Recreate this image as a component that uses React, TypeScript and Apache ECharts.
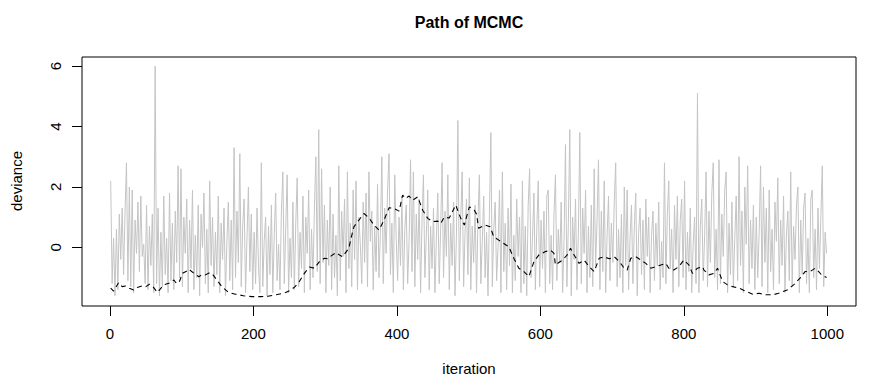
import React, { useEffect, useRef } from "react";
import * as echarts from "echarts";

// x ticks and y ticks
const xTicks = [0, 200, 400, 600, 800, 1000];
const yTicks = [0, 2, 4, 6];

// sampled chain (every 2nd iteration starting at 1)
const sampleStep = 2;
const deviance = [
  2.2, -1.2, 0.3, -1.6, 0.6, -1.4, 1.1, -0.4, 1.3, -0.9, 1.2, 2.8, -1.1, 2.0, -1.3, 1.9, -1.5, 0.9, -0.2, 1.5, -0.8, 1.7, -0.3, 0.1, -1.2,
  1.4, -1.4, 0.7, -0.6, 1.1, -1.5, 6.0, -1.2, 1.3, -1.6, 0.5, -1.3, 1.7, -0.9, 0.3, -1.5, 1.8, -1.1, 0.8, -1.4, 1.2, -0.5, 2.7, -1.0, 2.6,
  -1.3, 1.0, -0.2, 1.6, -1.5, 0.9, -0.7, 1.9, -1.4, 0.4, -1.0, 1.4, -1.6, 1.1, 0.0, 1.8, -1.2, 0.6, -1.5, 2.2, -0.6, 1.0, -1.3, 0.5, -0.9,
  1.7, -1.5, 0.8, -0.4, 1.3, -1.6, 0.2, 1.5, -1.1, 0.9, -1.4, 3.3, -1.0, 1.2, -0.5, 3.1, -1.3, 0.7, 1.6, -1.5, 0.3, 2.0, -0.8, 1.1, -1.4,
  0.5, -1.2, 1.3, -0.6, -1.5, 2.8, -1.3, 0.2, 1.0, -1.6, 0.7, -0.9, 1.4, -1.5, 0.4, 1.8, -1.1, 0.1, -1.4, 1.2, 2.5, -1.2, 0.6, 2.4, -1.5,
  0.3, -1.0, 1.5, -1.4, 0.8, 2.3, -1.3, 0.5, -0.7, 1.7, -1.5, 1.0, -0.2, 1.9, -1.4, 0.6, -1.0, 1.3, 3.0, -0.8, 3.9, -1.2, 2.6, -0.5, 1.4,
  -1.5, 0.9, -0.6, 2.0, -1.4, 1.1, -1.0, 0.4, -1.6, 2.7, -1.1, 1.2, -0.3, 1.6, -1.5, 2.5, -0.7, 0.8, -1.3, 1.9, -0.4, 2.2, -1.4, 1.0, 0.1,
  -1.2, 1.5, -0.5, 1.8, -1.3, 2.5, 0.2, 1.2, -1.4, 0.7, -0.8, 2.1, -1.0, 0.5, 3.0, -1.2, 1.3, -0.2, 1.9, 3.1, -0.9, 0.8, -1.5, 2.4, 0.3,
  -1.1, 1.0, -0.6, 1.7, -1.4, 0.6, 1.4, -1.2, 0.2, 2.9, -0.8, 2.5, -1.3, 1.1, -0.4, 1.6, -1.5, 0.9, 2.4, -1.0, 0.4, 1.9, -1.4, 0.7, -0.7,
  1.3, -1.5, 0.3, 1.8, -1.2, 0.6, 2.8, -1.0, 1.2, -0.3, 2.4, -1.4, 0.8, -0.6, 1.5, -1.6, 0.4, 4.2, -1.1, 1.0, 2.5, -1.3, 0.5, 1.6, -0.9,
  2.3, -1.4, 0.7, -0.5, 1.4, -1.5, 0.9, 2.4, -1.2, 0.2, 1.7, -1.0, 0.5, -1.6, 1.2, 3.8, -1.3, 0.6, 1.5, -1.1, 0.0, 1.9, -1.5, 2.5, -0.8,
  0.8, -1.4, 1.3, -0.6, 2.1, -1.5, 0.4, -1.1, 1.6, -0.3, 1.0, -1.5, 2.2, -1.2, 0.7, -1.6, 1.4, 2.6, -1.0, 0.3, 1.8, -1.4, 0.6, 2.2, -1.3,
  0.9, -0.7, 1.2, -1.5, 1.7, 1.9, -1.2, 0.4, -1.4, 1.1, 2.4, -1.1, 0.6, -0.5, 1.5, -1.5, 0.2, 3.4, -1.3, 0.8, 3.9, -1.6, 1.0, -0.4, 1.6,
  -1.4, 0.5, 3.8, -1.2, 1.3, -0.2, 1.9, -1.5, 0.7, -1.0, 1.4, -1.3, 2.6, -0.6, 0.9, 2.9, -1.4, 1.2, -0.8, 2.2, -1.5, 0.4, 1.7, -1.1, 0.8,
  -0.5, 1.5, 2.8, -1.3, 0.6, -1.0, 1.1, -1.5, 2.0, -0.6, 1.9, -1.4, 0.3, 1.4, -1.2, 0.7, 1.8, -1.6, 0.5, 1.3, -0.9, 0.9, -1.4, 1.6, -0.3,
  1.0, -1.5, 0.4, 1.2, -1.1, 0.8, -0.6, 1.5, -1.4, 0.2, -1.0, 2.8, -1.2, 1.1, 2.2, -0.7, 0.6, -1.5, 1.4, -0.4, 1.7, -1.3, 0.9, 1.6, -1.0,
  2.2, -1.4, 0.5, -0.8, 1.3, -1.5, 0.1, 1.0, -1.2, 5.1, -1.5, 0.7, 1.6, -1.1, 0.4, 2.5, -1.3, 1.2, -0.5, 1.8, 2.8, -1.0, 0.6, -1.4, 2.9,
  -1.2, 1.1, -0.3, 1.9, 2.5, -1.5, 0.8, -0.9, 1.5, -1.3, 0.3, 1.7, -1.1, 3.0, -0.6, 1.2, -1.5, 2.0, 0.1, 2.7, -1.2, 0.9, -0.7, 1.4, -1.4,
  1.0, -1.0, 0.5, 2.7, -1.3, 2.0, -0.5, 1.3, -1.5, 1.9, -0.8, 0.6, -1.4, 1.5, 0.2, 2.3, -1.2, 0.9, -0.6, 1.7, -1.5, 0.4, 1.2, -1.1, 2.5,
  -1.3, 0.7, -0.4, 1.4, 2.0, -1.5, 0.9, -0.9, 1.3, 1.8, -1.2, 0.3, -1.5, 1.6, 1.9, -1.0, 0.6, -1.4, 1.3, -0.7, 1.0, 2.7, -1.3, 0.5, -0.2,
];

// second (dashed) trace
const traceIter = [
  1, 5, 12, 17, 22, 27, 33, 38, 45, 50, 55, 60, 66, 70, 75, 82, 89, 93, 97, 101, 106, 110, 117, 124, 128, 133, 138, 142, 149, 156,
  165, 175, 186, 198, 210, 220, 231, 240, 245, 252, 258, 264, 271, 278, 285, 292, 299, 304, 308, 315, 320, 324, 333, 336, 340, 347,
  354, 361, 368, 375, 382, 389, 396, 403, 408, 412, 417, 422, 429, 436, 443, 450, 457, 461, 466, 473, 482, 489, 494, 501, 508, 511,
  514, 523, 530, 535, 542, 549, 556, 563, 570, 577, 584, 591, 598, 607, 614, 619, 621, 631, 638, 642, 647, 654, 661, 668, 675, 682,
  689, 696, 703, 710, 717, 721, 726, 733, 740, 747, 754, 761, 768, 775, 779, 786, 793, 800, 807, 812, 819, 826, 828, 835, 842, 847,
  854, 861, 868, 877, 887, 896, 905, 914, 924, 932, 944, 953, 962, 969, 976, 983, 988, 992, 999,
];
const traceVal = [
  -1.35, -1.45, -1.17, -1.3, -1.28, -1.35, -1.41, -1.33, -1.27, -1.3, -1.22, -1.3, -1.49, -1.38, -1.24, -1.19, -1.08, -1.2, -1.12,
  -0.86, -0.8, -0.72, -0.86, -0.97, -0.9, -0.91, -0.85, -0.86, -1.08, -1.3, -1.49, -1.55, -1.6, -1.63, -1.63, -1.62, -1.57, -1.53,
  -1.49, -1.41, -1.3, -1.13, -0.86, -0.65, -0.69, -0.47, -0.36, -0.38, -0.29, -0.17, -0.25, -0.31, -0.03, 0.3, 0.68, 0.9, 1.12, 0.98,
  0.74, 0.57, 0.9, 1.31, 1.29, 1.2, 1.73, 1.62, 1.7, 1.56, 1.67, 1.23, 0.96, 0.85, 0.87, 0.79, 1.0, 0.97, 1.4, 0.96, 0.74, 1.34, 1.23,
  1.1, 0.63, 0.74, 0.68, 0.35, 0.24, 0.13, 0.02, -0.36, -0.69, -0.8, -0.97, -0.47, -0.25, -0.14, -0.09, -0.2, -0.58, -0.42, -0.23,
  -0.03, -0.25, -0.53, -0.42, -0.64, -0.8, -0.36, -0.31, -0.38, -0.31, -0.47, -0.69, -0.75, -0.36, -0.31, -0.42, -0.53, -0.69, -0.64,
  -0.58, -0.53, -0.69, -0.75, -0.64, -0.42, -0.58, -0.86, -0.69, -0.64, -0.75, -0.91, -0.86, -0.69, -1.13, -1.24, -1.3, -1.35, -1.46,
  -1.55, -1.52, -1.57, -1.57, -1.52, -1.41, -1.24, -1.02, -0.8, -0.8, -0.69, -0.8, -0.91, -1.0,
];

const FONT = "'Liberation Sans', Arial, Helvetica, sans-serif";

export default function App() {
  const ref = useRef<HTMLDivElement>(null);
  useEffect(() => {
    document.body.style.margin = "0";
    const chart = echarts.init(ref.current as HTMLDivElement, null, { renderer: "svg" });
    const grayData = deviance.map((v, i) => [i * sampleStep + 1, v]);
    const dashData = traceIter.map((x, i) => [x, traceVal[i]]);
    chart.setOption({
      animation: false,
      backgroundColor: "#ffffff",
      grid: {
        left: 82,
        right: 14,
        top: 57,
        bottom: 75,
        show: true,
        borderColor: "#000",
        borderWidth: 1,
        backgroundColor: "transparent",
      },
      xAxis: {
        type: "value",
        min: -39,
        max: 1040,
        axisLine: { show: false, onZero: false },
        splitLine: { show: false },
        axisTick: {
          show: true,
          length: 10,
          customValues: xTicks,
          lineStyle: { color: "#000", width: 1 },
        },
        axisLabel: {
          customValues: xTicks,
          formatter: (v: number) => String(v),
          color: "#000",
          fontSize: 15,
          fontFamily: FONT,
          margin: 20,
        },
      },
      yAxis: {
        type: "value",
        min: -1.94,
        max: 6.3,
        axisLine: { show: false, onZero: false },
        splitLine: { show: false },
        axisTick: {
          show: true,
          length: 10,
          customValues: yTicks,
          lineStyle: { color: "#000", width: 1 },
        },
        axisLabel: {
          customValues: yTicks,
          formatter: (v: number) => String(v),
          color: "#000",
          fontSize: 15,
          fontFamily: FONT,
          rotate: 90,
          margin: 19,
        },
      },
      graphic: [
        {
          type: "text",
          x: 469,
          y: 22,
          style: {
            text: "Path of MCMC",
            font: `bold 16px ${FONT}`,
            fill: "#000",
            textAlign: "center",
            textVerticalAlign: "middle",
          },
        },
        {
          type: "text",
          x: 469,
          y: 368,
          style: {
            text: "iteration",
            font: `15px ${FONT}`,
            fill: "#000",
            textAlign: "center",
            textVerticalAlign: "middle",
          },
        },
        {
          type: "text",
          x: 16,
          y: 181,
          rotation: Math.PI / 2,
          style: {
            text: "deviance",
            font: `15px ${FONT}`,
            fill: "#000",
            textAlign: "center",
            textVerticalAlign: "middle",
          },
        },
      ],
      series: [
        {
          type: "line",
          data: grayData,
          symbol: "none",
          silent: true,
          lineStyle: { color: "#c4c4c4", width: 1 },
          z: 2,
        },
        {
          type: "line",
          data: dashData,
          symbol: "none",
          silent: true,
          lineStyle: { color: "#000", width: 1.1, type: [5, 4] },
          z: 3,
        },
      ],
    });
    return () => chart.dispose();
  }, []);
  return <div ref={ref} style={{ width: 870, height: 381 }} />;
}
